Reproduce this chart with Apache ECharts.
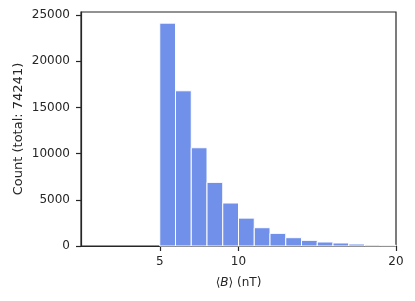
<!DOCTYPE html>
<html><head><meta charset="utf-8">
<script src="https://cdn.jsdelivr.net/npm/echarts@6/dist/echarts.min.js"></script>
<style>html,body{margin:0;padding:0;background:#fff}#c{width:415px;height:301px}</style>
</head><body><div id="c"></div>
<script>
const binStarts = [5,6,7,8,9,10,11,12,13,14,15,16,17,18,19];
const binWidth = 1;
const counts = [24134,16808,10640,6890,4654,3020,1980,1370,900,613,433,325,216,108,80];
const xTicks = [5,10,20];
const yTicks = [0,5000,10000,15000,20000,25000];
const yMax = 25340;

const FONT = 'DejaVu Sans';
const C = '#262626';
const chart = echarts.init(document.getElementById('c'), null, {renderer:'canvas'});
chart.setOption({
  animation:false,
  grid:{left:81,right:19,top:12,bottom:55,show:true,borderColor:C,borderWidth:1.2,backgroundColor:'transparent'},
  xAxis:{type:'value',min:0,max:20,
    name:'⟨{i|B}⟩ (nT)',nameLocation:'middle',nameGap:31,nameMoveOverlap:false,
    nameTextStyle:{fontFamily:FONT,fontSize:12,color:C,rich:{i:{fontFamily:FONT,fontSize:12,fontStyle:'italic',color:C}}},
    axisLine:{show:true,onZero:false,lineStyle:{color:C,width:1.2}},
    axisTick:{show:true,inside:false,length:5,customValues:xTicks,lineStyle:{color:C,width:1.2}},
    axisLabel:{customValues:xTicks,fontFamily:FONT,fontSize:12,color:C,margin:10},
    splitLine:{show:false}},
  yAxis:{type:'value',min:0,max:yMax,
    name:'Count (total: 74241)',nameLocation:'middle',nameGap:56,nameMoveOverlap:false,
    nameTextStyle:{fontFamily:FONT,fontSize:13,color:C},
    axisLine:{show:true,onZero:false,lineStyle:{color:C,width:1.2}},
    axisTick:{show:true,inside:false,length:5,customValues:yTicks,lineStyle:{color:C,width:1.2}},
    axisLabel:{customValues:yTicks,fontFamily:FONT,fontSize:12,color:C,margin:11,formatter:function(v){return String(v);}},
    splitLine:{show:false}},
  series:[{
    type:'custom',
    data: binStarts.map((s,i)=>[s, s+binWidth, counts[i]]),
    encode:{x:[0,1],y:2},
    renderItem:function(params, api){
      const p0 = api.coord([api.value(0), 0]);
      const p1 = api.coord([api.value(1), api.value(2)]);
      return {type:'rect',
        shape:{x:p0[0], y:p1[1], width:p1[0]-p0[0], height:p0[1]-p1[1]},
        style:{fill:'#7190e9', stroke:'#ffffff', lineWidth:1}};
    }
  }]
});
</script></body></html>
